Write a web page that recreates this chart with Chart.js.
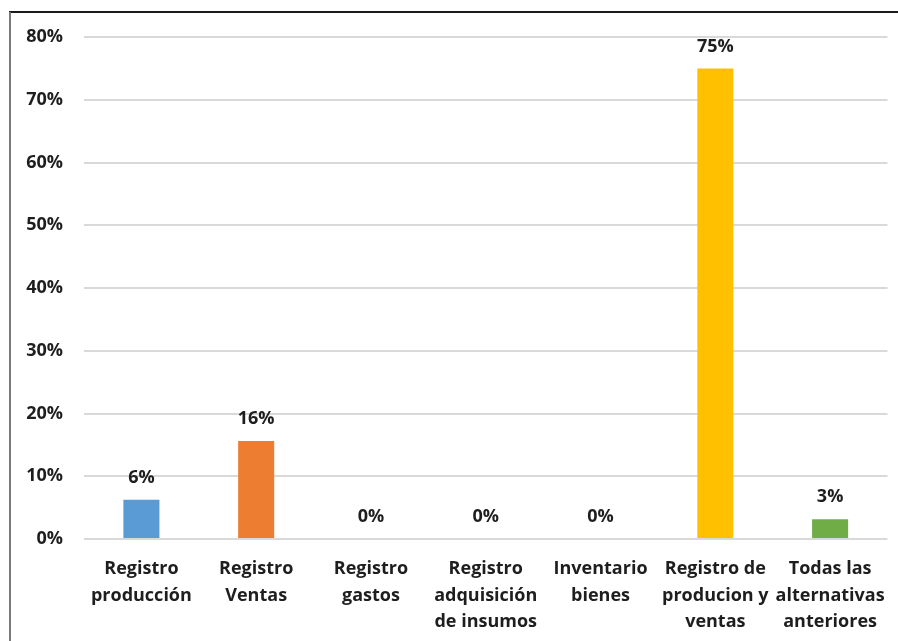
<!DOCTYPE html>
<html>
<head>
<meta charset="utf-8">
<script src="https://cdn.jsdelivr.net/npm/chart.js@4/dist/chart.umd.min.js"></script>
<style>
  html, body { margin: 0; padding: 0; background: #fff; }
  #wrap { position: relative; width: 898px; height: 641px; }
</style>
</head>
<body>
<div id="wrap"><canvas id="graph"></canvas></div>
<script>
const categories = [
  ['Registro', 'producción'],
  ['Registro', 'Ventas'],
  ['Registro', 'gastos'],
  ['Registro', 'adquisición', 'de insumos'],
  ['Inventario', 'bienes'],
  ['Registro de', 'producion y', 'ventas'],
  ['Todas las', 'alternativas', 'anteriores']
];
const percents = [6.25, 15.63, 0, 0, 0, 75, 3.13];
const barColors = ['#5B9BD5', '#ED7D31', '#A5A5A5', '#4472C4', '#264478', '#FFC000', '#70AD47'];
const yTicks = [0, 10, 20, 30, 40, 50, 60, 70, 80];

const font = { family: 'Open Sans', size: 18, weight: 'bold' };
const textColor = '#1e1e1e';

// value labels above each bar
const valueLabels = {
  id: 'valueLabels',
  afterDatasetsDraw(chart) {
    const ctx = chart.ctx;
    const meta = chart.getDatasetMeta(0);
    ctx.save();
    ctx.font = 'bold 18px "Open Sans"';
    ctx.fillStyle = textColor;
    ctx.textAlign = 'center';
    ctx.textBaseline = 'middle';
    meta.data.forEach((bar, i) => {
      ctx.fillText(Math.round(percents[i]) + '%', bar.x, bar.y - 22);
    });
    ctx.restore();
  }
};

// chart frame (top and left edges)
const frame = {
  id: 'frame',
  afterDraw(chart) {
    const ctx = chart.ctx;
    ctx.save();
    ctx.lineWidth = 2;
    ctx.strokeStyle = '#1a1a1a';
    ctx.beginPath();
    ctx.moveTo(9, 12);
    ctx.lineTo(chart.width, 12);
    ctx.stroke();
    ctx.strokeStyle = '#7a7a7a';
    ctx.beginPath();
    ctx.moveTo(10, 12);
    ctx.lineTo(10, chart.height);
    ctx.stroke();
    ctx.restore();
  }
};

new Chart(document.getElementById('graph'), {
  type: 'bar',
  data: {
    labels: categories,
    datasets: [{
      data: percents,
      backgroundColor: barColors,
      categoryPercentage: 1,
      barPercentage: 0.314
    }]
  },
  options: {
    responsive: true,
    maintainAspectRatio: false,
    animation: false,
    layout: { padding: { left: 0, top: 37, right: 10.5, bottom: 0 } },
    plugins: { legend: { display: false }, tooltip: { enabled: false } },
    scales: {
      x: {
        grid: { display: false },
        border: { display: false },
        ticks: {
          color: textColor,
          font: Object.assign({ lineHeight: 1.47 }, font),
          padding: 9,
          maxRotation: 0,
          autoSkip: false
        },
        afterFit(scale) { scale.height = 102; }
      },
      y: {
        min: 0,
        max: 80,
        afterBuildTicks(scale) { scale.ticks = yTicks.map(v => ({ value: v })); },
        grid: { color: '#d9d9d9', lineWidth: 2, drawTicks: false },
        border: { display: false },
        ticks: {
          color: textColor,
          font: font,
          padding: 21,
          callback: v => v + '%'
        },
        afterFit(scale) { scale.width = 84; }
      }
    }
  },
  plugins: [valueLabels, frame]
});
</script>
</body>
</html>
